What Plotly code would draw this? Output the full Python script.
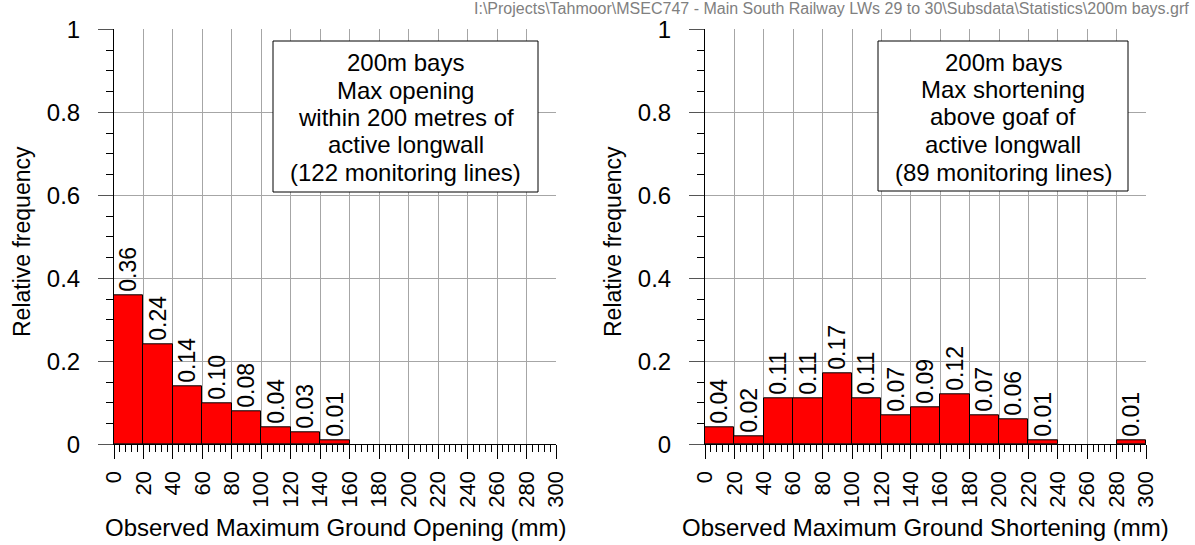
import plotly.graph_objects as go

# Histogram bins (mm), 20 mm wide
bin_left = list(range(0, 300, 20))
bin_width = 20

# Relative frequencies per bin
opening_freq = [0.36, 0.24, 0.14, 0.10, 0.08, 0.04, 0.03, 0.01, 0, 0, 0, 0, 0, 0, 0]
shortening_freq = [0.04, 0.02, 0.11, 0.11, 0.17, 0.11, 0.07, 0.09, 0.12, 0.07, 0.06, 0.01, 0, 0, 0.01]

x_ticks = list(range(0, 301, 20))
y_ticks = [0, 0.2, 0.4, 0.6, 0.8, 1]
y_tick_text = ["0", "0.2", "0.4", "0.6", "0.8", "1"]

opening_box = ["200m bays", "Max opening", "within 200 metres of",
               "active longwall", "(122 monitoring lines)"]
shortening_box = ["200m bays", "Max shortening", "above goaf of",
                  "active longwall", "(89 monitoring lines)"]

x_titles = ["Observed Maximum Ground Opening (mm)",
            "Observed Maximum Ground Shortening (mm)"]
file_path = r"I:\Projects\Tahmoor\MSEC747 - Main South Railway LWs 29 to 30\Subsdata\Statistics\200m bays.grf"

W, H = 1195, 545
FONT = "Liberation Sans, Arial, sans-serif"


def px_x(p):
    return p / W


def px_y(p):
    return 1 - p / H


centers = [b + bin_width / 2 for b in bin_left]
fig = go.Figure()

panels = [
    dict(freq=opening_freq, xa="x", ya="y", x0=114, x1=556, box=(273, 41, 538, 192), lines=opening_box),
    dict(freq=shortening_freq, xa="x2", ya="y2", x0=705, x1=1146, box=(878, 41, 1128, 191), lines=shortening_box),
]

annotations = []
shapes = []
for i, p in enumerate(panels):
    fig.add_trace(go.Bar(
        x=centers, y=p["freq"], width=[bin_width] * len(centers),
        xaxis=p["xa"], yaxis=p["ya"],
        marker=dict(color="#ff0000",
                    line=dict(color="black", width=[1 if v > 0 else 0 for v in p["freq"]])),
        text=[f"{v:.2f}" if v > 0 else "" for v in p["freq"]],
        textposition="outside", textangle=-90, constraintext="none",
        textfont=dict(family=FONT, size=23, color="black"),
        cliponaxis=False, showlegend=False, hoverinfo="skip",
    ))

    axis_common = dict(
        showline=True, linecolor="black", linewidth=1,
        showgrid=True, gridcolor="#a6a6a6", gridwidth=1,
        zeroline=False, ticks="outside", tickcolor="#555555",
        automargin=False,
        tickfont=dict(family=FONT, size=22, color="black"),
    )
    suffix = "" if i == 0 else str(i + 1)
    fig.update_layout(**{
        "xaxis" + suffix: dict(
            axis_common, domain=[px_x(p["x0"]), px_x(p["x1"])],
            range=[0, 300], tickvals=x_ticks, tickangle=-90,
            ticklen=14, tickcolor="black", ticklabelstandoff=3,
            anchor="y" + suffix,
            minor=dict(dtick=4, ticklen=7, tickcolor="black", ticks="outside", showgrid=False),
        ),
        "yaxis" + suffix: dict(
            axis_common, domain=[px_y(444.3), px_y(29.3)],
            range=[0, 1], tickvals=y_ticks, ticktext=y_tick_text,
            ticklen=15, ticklabelstandoff=13, anchor="x" + suffix,
            tickfont=dict(family=FONT, size=24, color="black"),
            minor=dict(dtick=0.05, ticklen=7, tickcolor="black", ticks="outside", showgrid=False),
        ),
    })

    # description box
    bx0, by0, bx1, by1 = p["box"]
    shapes.append(dict(type="rect", xref="paper", yref="paper",
                       x0=px_x(bx0), x1=px_x(bx1), y0=px_y(by1), y1=px_y(by0),
                       line=dict(color="black", width=1), fillcolor="white", layer="above"))
    cy = (by0 + by1) / 2
    for k, line in enumerate(p["lines"]):
        annotations.append(dict(
            text=line, xref="paper", yref="paper", x=px_x((bx0 + bx1) / 2),
            y=px_y(cy + 1 + (k - 2) * 27.5), xanchor="center", yanchor="middle",
            showarrow=False, font=dict(family=FONT, size=24, color="black"),
        ))

    # axis titles
    annotations.append(dict(
        text=x_titles[i], xref="paper", yref="paper",
        x=px_x((p["x0"] + p["x1"]) / 2), y=px_y(527), xanchor="center", yanchor="middle",
        showarrow=False, font=dict(family=FONT, size=24, color="black"),
    ))
    annotations.append(dict(
        text="Relative frequency", xref="paper", yref="paper",
        x=px_x(p["x0"] - 92), y=px_y(242), xanchor="center", yanchor="middle",
        textangle=-90, showarrow=False, font=dict(family=FONT, size=23, color="black"),
    ))

annotations.append(dict(
    text=file_path, xref="paper", yref="paper", x=px_x(1191), y=px_y(8),
    xanchor="right", yanchor="middle", showarrow=False,
    font=dict(family=FONT, size=16, color="#808080"),
))

fig.update_layout(
    width=W, height=H, margin=dict(l=0, r=0, t=0, b=0, autoexpand=False),
    paper_bgcolor="white", plot_bgcolor="white",
    bargap=0, annotations=annotations, shapes=shapes,
    font=dict(family=FONT),
)

fig.write_html("out.html")
